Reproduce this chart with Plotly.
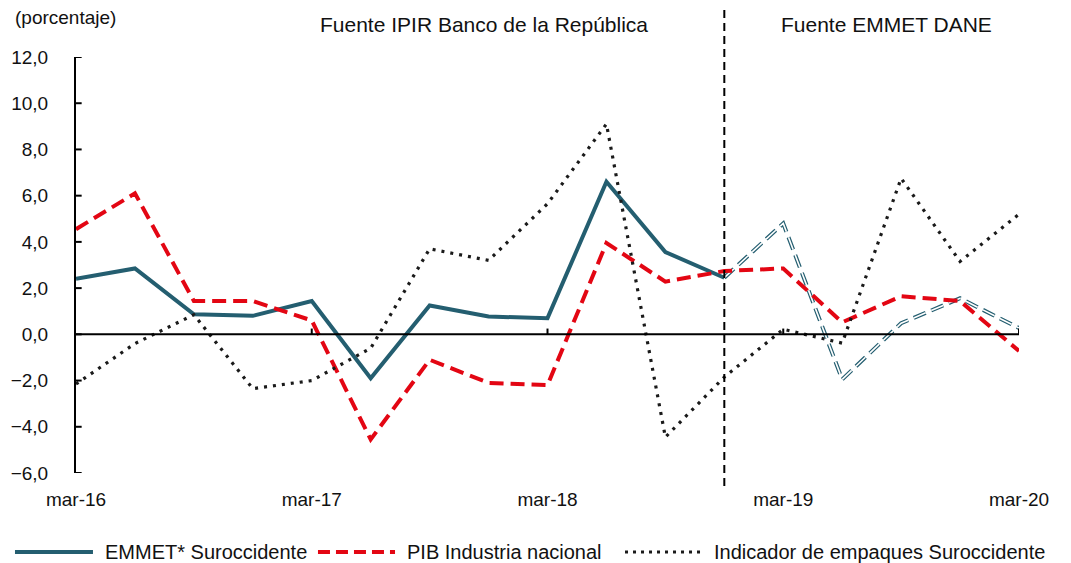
import plotly.graph_objects as go

quarters = ["mar-16", "jun-16", "sep-16", "dic-16",
            "mar-17", "jun-17", "sep-17", "dic-17",
            "mar-18", "jun-18", "sep-18", "dic-18",
            "mar-19", "jun-19", "sep-19", "dic-19",
            "mar-20"]

# EMMET* Suroccidente (IPIR Banco de la República part, then EMMET DANE part)
emmet_ipir = [2.4, 2.85, 0.87, 0.8, 1.44, -1.9, 1.25, 0.77, 0.7, 6.6, 3.56, 2.45]
emmet_dane = [2.45, 4.8, -1.95, 0.48, 1.56, 0.27]
pib_industria = [4.55, 6.1, 1.44, 1.44, 0.6, -4.55, -1.1, -2.1, -2.2, 3.95,
                 2.28, 2.74, 2.85, 0.52, 1.65, 1.44, -0.72]
empaques = [-2.15, -0.4, 0.85, -2.35, -2.0, -0.6, 3.7, 3.2, 5.65, 9.1,
            -4.45, -1.85, 0.22, -0.38, 6.75, 3.15, 5.2]

y_ticks = [-6, -4, -2, 0, 2, 4, 6, 8, 10, 12]
x_tick_labels = ["mar-16", "mar-17", "mar-18", "mar-19", "mar-20"]
split_label = "dic-18"

TEAL = "#245E70"
RED = "#E30613"
DARK = "#1A1A1A"
FONT = "Liberation Sans, Arial, sans-serif"

n = len(quarters)
split_idx = quarters.index(split_label)

fig = go.Figure()

fig.add_trace(go.Scatter(
    x=quarters[:len(emmet_ipir)], y=emmet_ipir, mode="lines",
    name="EMMET* Suroccidente", line=dict(color=TEAL, width=4),
    showlegend=False, hoverinfo="x+y"))

dane_x = quarters[split_idx:split_idx + len(emmet_dane)]
fig.add_trace(go.Scatter(
    x=dane_x, y=emmet_dane, mode="lines", name="EMMET DANE",
    line=dict(color=TEAL, width=4, dash="13px,6px"),
    showlegend=False, hoverinfo="x+y"))
fig.add_trace(go.Scatter(
    x=dane_x, y=emmet_dane, mode="lines", name="EMMET DANE (inner)",
    line=dict(color="white", width=1.6, dash="13px,6px"),
    showlegend=False, hoverinfo="skip"))

fig.add_trace(go.Scatter(
    x=quarters, y=pib_industria, mode="lines",
    name="PIB Industria nacional",
    line=dict(color=RED, width=4, dash="14px,7px"),
    showlegend=False, hoverinfo="x+y"))

fig.add_trace(go.Scatter(
    x=quarters, y=empaques, mode="lines",
    name="Indicador de empaques Suroccidente",
    line=dict(color=DARK, width=3.2, dash="3px,6px"),
    showlegend=False, hoverinfo="x+y"))

shapes = []
# zero line
shapes.append(dict(type="line", xref="x", yref="y", x0=0, x1=n - 1, y0=0, y1=0,
                   line=dict(color="black", width=2), layer="above"))
# small ticks on the zero line
for lab in x_tick_labels[1:]:
    i = quarters.index(lab)
    shapes.append(dict(type="line", xref="x", yref="y", x0=i, x1=i, y0=0, y1=0.25,
                       line=dict(color="black", width=2), layer="above"))
# small ticks on the y axis (pointing into the plot)
for v in y_ticks:
    shapes.append(dict(type="line", xref="paper", yref="y", x0=0, x1=0.006,
                       y0=v, y1=v, line=dict(color="black", width=2), layer="above"))
# vertical dashed separator
shapes.append(dict(type="line", xref="paper", yref="paper",
                   x0=split_idx / (n - 1), x1=split_idx / (n - 1),
                   y0=-0.031, y1=1.113,
                   line=dict(color="black", width=2, dash="8px,5px")))

# custom legend
leg_y = -0.19
legend_items = [
    (-0.0647, 0.018, 0.0286, "EMMET* Suroccidente", dict(color=TEAL, width=4)),
    (0.2566, 0.3383, 0.3489, "PIB Industria nacional", dict(color=RED, width=4, dash="12px,6px")),
    (0.5822, 0.667, 0.6744, "Indicador de empaques Suroccidente", dict(color=DARK, width=3, dash="3px,5px")),
]
annotations = []
for x0, x1, xt, txt, ln in legend_items:
    shapes.append(dict(type="line", xref="paper", yref="paper", x0=x0, x1=x1,
                       y0=leg_y, y1=leg_y, line=ln))
    annotations.append(dict(xref="paper", yref="paper", x=xt, y=leg_y, text=txt,
                            showarrow=False, xanchor="left", yanchor="middle",
                            font=dict(size=20, color="#111", family=FONT)))

annotations += [
    dict(xref="paper", yref="paper", x=-0.0668, y=1.094, text="(porcentaje)",
         showarrow=False, xanchor="left", yanchor="middle",
         font=dict(size=19, color="#111", family=FONT)),
    dict(xref="paper", yref="paper", x=0.4327, y=1.077,
         text="Fuente IPIR Banco de la República", showarrow=False,
         xanchor="center", yanchor="middle",
         font=dict(size=21, color="#111", family=FONT)),
    dict(xref="paper", yref="paper", x=0.86, y=1.079,
         text="Fuente EMMET DANE", showarrow=False,
         xanchor="center", yanchor="middle",
         font=dict(size=21, color="#111", family=FONT)),
]

fig.update_layout(
    width=1071, height=563,
    margin=dict(l=76, r=52, t=57, b=90),
    paper_bgcolor="white", plot_bgcolor="white",
    separators=",.",
    showlegend=False,
    shapes=shapes, annotations=annotations,
    font=dict(family=FONT, size=19, color="#111"),
    xaxis=dict(type="category", categoryorder="array", categoryarray=quarters,
               range=[0, n - 1], tickmode="array", tickvals=x_tick_labels,
               ticktext=x_tick_labels, showgrid=False, zeroline=False,
               showline=False, ticks="", ticklabelstandoff=13,
               tickfont=dict(size=19, family=FONT, color="#111")),
    yaxis=dict(range=[-6, 12], tickmode="array", tickvals=y_ticks,
               tickformat=".1f", showgrid=False, zeroline=False,
               showline=True, linecolor="black", linewidth=2,
               ticks="", ticklabelstandoff=22,
               tickfont=dict(size=19, family=FONT, color="#111")),
)

fig.write_html("out.html", config={"displayModeBar": False},
               post_script="document.body.style.margin='0';document.body.style.overflow='hidden';")
